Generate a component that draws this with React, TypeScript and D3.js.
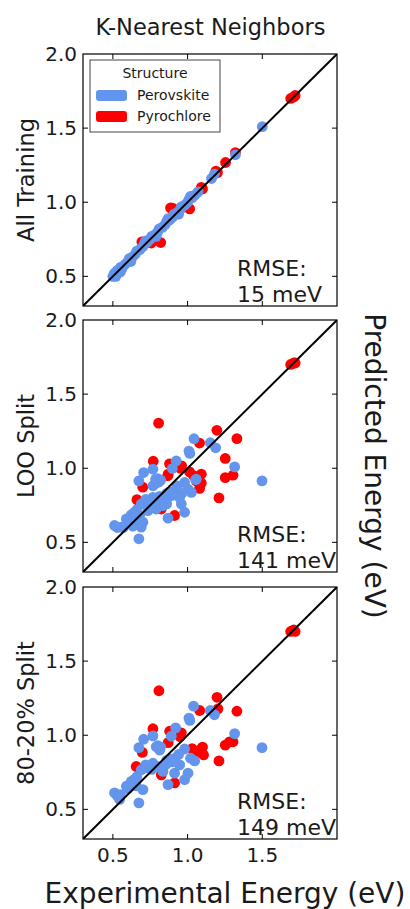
import React from "react";
import * as d3 from "d3";

// ---------- data ----------
const panelLabels = ["All Training", "LOO Split", "80-20% Split"];
const rmseLabels = ["15 meV", "141 meV", "149 meV"];
const tickValues = [0.5, 1.0, 1.5, 2.0];
const xTickValues = [0.5, 1.0, 1.5];
const seriesNames = ["Perovskite", "Pyrochlore"];
const seriesColors = ["#6495ED", "#FF0000"];

// All Training
const trainPeroX = [0.5, 0.51, 0.52, 0.53, 0.54, 0.55, 0.56, 0.52, 0.55, 0.58, 0.6, 0.61, 0.63, 0.65, 0.66, 0.68, 0.7, 0.71, 0.73, 0.75, 0.76, 0.78, 0.8, 0.81, 0.83, 0.85, 0.86, 0.88, 0.9, 0.91, 0.93, 0.95, 0.96, 0.98, 1.0, 1.01, 1.03, 1.05, 1.07, 0.62, 0.72, 0.79, 0.87, 0.94, 1.02, 1.16, 1.18, 1.32, 1.5];
const trainPeroY = [0.5, 0.52, 0.51, 0.54, 0.53, 0.56, 0.55, 0.5, 0.53, 0.58, 0.6, 0.62, 0.63, 0.65, 0.67, 0.68, 0.7, 0.72, 0.73, 0.75, 0.77, 0.78, 0.8, 0.82, 0.83, 0.85, 0.87, 0.88, 0.9, 0.92, 0.93, 0.95, 0.97, 0.98, 1.0, 1.02, 1.03, 1.05, 1.07, 0.6, 0.74, 0.77, 0.89, 0.92, 1.04, 1.16, 1.19, 1.32, 1.51];
const trainPyroX = [1.69, 1.71, 1.72, 1.32, 1.254, 1.19, 1.2, 1.092, 1.1, 0.886, 0.9, 1.014, 0.694, 0.757, 0.82];
const trainPyroY = [1.7, 1.71, 1.72, 1.335, 1.268, 1.21, 1.2, 1.1, 1.09, 0.962, 0.96, 0.955, 0.733, 0.725, 0.728];

// LOO Split
const looPeroX = [1.498, 1.315, 1.152, 1.188, 1.043, 1.009, 1.015, 0.924, 0.898, 0.768, 0.706, 0.674, 0.786, 0.808, 0.8, 0.768, 1.058, 0.98, 1.003, 1.025, 0.913, 0.891, 0.947, 0.857, 0.813, 0.768, 0.746, 0.712, 0.69, 0.958, 0.835, 0.79, 0.735, 0.98, 0.869, 0.623, 0.59, 0.656, 0.701, 0.679, 0.511, 0.556, 0.634, 0.69, 0.674, 1.054, 0.79, 0.62, 0.64, 0.66, 0.72, 0.74, 0.78, 0.82, 0.84, 0.86, 0.88, 0.9, 0.86, 0.6, 0.53, 0.57, 0.82, 0.93, 0.96];
const looPeroY = [0.915, 1.009, 1.172, 1.138, 1.199, 1.116, 1.1, 1.049, 0.998, 0.993, 0.971, 0.915, 0.926, 0.908, 0.93, 0.882, 0.926, 0.904, 0.859, 0.837, 0.848, 0.815, 0.803, 0.803, 0.81, 0.803, 0.781, 0.77, 0.759, 0.759, 0.748, 0.725, 0.714, 0.703, 0.663, 0.685, 0.658, 0.658, 0.636, 0.681, 0.614, 0.603, 0.609, 0.603, 0.524, 0.922, 0.9, 0.66, 0.7, 0.72, 0.79, 0.76, 0.76, 0.77, 0.79, 0.83, 0.84, 0.82, 0.76, 0.64, 0.6, 0.6, 0.92, 0.88, 0.83];
const looPyroX = [1.69, 1.71, 1.72, 0.806, 1.196, 1.33, 1.08, 0.77, 1.252, 0.879, 0.96, 1.013, 1.092, 1.252, 1.304, 0.868, 1.058, 1.092, 1.08, 0.7, 0.661, 0.679, 1.21, 0.824, 0.913, 1.04, 0.87, 0.95, 1.07];
const looPyroY = [1.7, 1.71, 1.71, 1.304, 1.256, 1.2, 1.17, 1.047, 1.066, 1.03, 1.016, 0.975, 0.96, 0.937, 0.953, 0.95, 0.915, 0.9, 0.864, 0.872, 0.788, 0.77, 0.8, 0.725, 0.681, 0.95, 0.96, 1.0, 0.93];

// 80-20% Split
const splitPeroX = [1.498, 1.315, 1.18, 1.152, 1.04, 1.009, 1.015, 0.891, 0.768, 0.706, 0.674, 0.79, 0.813, 0.8, 0.98, 1.047, 1.02, 0.913, 0.947, 0.857, 0.768, 0.746, 0.69, 1.003, 0.913, 0.835, 0.98, 0.869, 0.623, 0.59, 0.656, 0.701, 0.511, 0.545, 0.53, 0.674, 0.92, 0.72, 0.62, 0.64, 0.66, 0.72, 0.76, 0.8, 0.84, 0.86, 0.88, 0.9, 0.55, 0.6, 0.82, 0.94];
const splitPeroY = [0.916, 1.011, 1.138, 1.167, 1.196, 1.116, 1.1, 0.993, 0.996, 0.973, 0.916, 0.922, 0.9, 0.93, 0.907, 0.827, 0.845, 0.844, 0.8, 0.804, 0.811, 0.782, 0.767, 0.744, 0.744, 0.756, 0.7, 0.667, 0.689, 0.656, 0.658, 0.633, 0.611, 0.567, 0.59, 0.544, 1.05, 0.8, 0.66, 0.7, 0.72, 0.78, 0.77, 0.79, 0.79, 0.83, 0.84, 0.82, 0.6, 0.64, 0.92, 0.87];
const splitPyroX = [1.69, 1.71, 1.72, 0.808, 1.197, 1.33, 1.203, 1.081, 0.768, 0.88, 0.958, 1.252, 1.304, 1.28, 1.092, 1.1, 1.058, 1.107, 1.21, 0.697, 0.656, 0.824, 0.913, 1.03, 0.87, 0.95];
const splitPyroY = [1.7, 1.71, 1.7, 1.3, 1.256, 1.162, 1.178, 1.167, 1.044, 1.027, 1.016, 0.933, 0.956, 0.955, 0.907, 0.92, 0.878, 0.867, 0.827, 0.884, 0.789, 0.733, 0.678, 0.91, 0.95, 0.99];

const panelsData = [
  [
    [trainPeroX, trainPeroY],
    [trainPyroX, trainPyroY],
  ],
  [
    [looPeroX, looPeroY],
    [looPyroX, looPyroY],
  ],
  [
    [splitPeroX, splitPeroY],
    [splitPyroX, splitPyroY],
  ],
];

// ---------- layout ----------
const W = 410;
const H = 909;
const left = 83;
const right = 337;
const tops = [54, 320, 587];
const ph = 252;
const FONT = "DejaVu Sans, sans-serif";
const domain: [number, number] = [0.3, 2.0];

export default function App() {
  const x = d3.scaleLinear().domain(domain).range([left, right]);
  const tickLen = 5;
  const R = 5.4;
  return (
    <svg
      width={W}
      height={H}
      style={{ position: "absolute", left: 0, top: 0, background: "#fff" }}
      fontFamily={FONT}
    >
      <rect x={0} y={0} width={W} height={H} fill="#fff" />
      <text x={210.5} y={35} fontSize={22.5} textAnchor="middle" fill="#1a1a1a">
        K-Nearest Neighbors
      </text>
      {tops.map((top, pi) => {
        const y = d3.scaleLinear().domain(domain).range([top + ph, top]);
        const clipId = `clip${pi}`;
        const [blue, red] = panelsData[pi];
        const redPts = d3.zip(red[0], red[1]);
        const bluePts = d3.zip(blue[0], blue[1]);
        return (
          <g key={pi}>
            <defs>
              <clipPath id={clipId}>
                <rect x={left} y={top} width={right - left} height={ph} />
              </clipPath>
            </defs>
            <g clipPath={`url(#${clipId})`}>
              {redPts.map((p, i) => (
                <circle key={"r" + i} cx={x(p[0])} cy={y(p[1])} r={R} fill={seriesColors[1]} />
              ))}
              {bluePts.map((p, i) => (
                <circle key={"b" + i} cx={x(p[0])} cy={y(p[1])} r={R} fill={seriesColors[0]} />
              ))}
              <line
                x1={x(domain[0])}
                y1={y(domain[0])}
                x2={x(domain[1])}
                y2={y(domain[1])}
                stroke="#000"
                strokeWidth={2}
              />
            </g>
            {xTickValues.map((t) => (
              <g key={"xt" + t}>
                <line x1={x(t)} x2={x(t)} y1={top + ph} y2={top + ph - tickLen} stroke="#000" strokeWidth={1} />
                <line x1={x(t)} x2={x(t)} y1={top} y2={top + tickLen} stroke="#000" strokeWidth={1} />
              </g>
            ))}
            {tickValues.slice(0, 3).map((t) => (
              <g key={"yt" + t}>
                <line x1={left} x2={left + tickLen} y1={y(t)} y2={y(t)} stroke="#000" strokeWidth={1} />
                <line x1={right} x2={right - tickLen} y1={y(t)} y2={y(t)} stroke="#000" strokeWidth={1} />
              </g>
            ))}
            {tickValues.map((t) => (
              <text key={"yl" + t} x={77} y={y(t) + 7} fontSize={20} textAnchor="end" fill="#1a1a1a">
                {t.toFixed(1)}
              </text>
            ))}
            <rect x={left} y={top} width={right - left} height={ph} fill="none" stroke="#000" strokeWidth={1.2} />
            <text x={237} y={top + ph - 30} fontSize={22} fill="#1a1a1a">
              RMSE:
            </text>
            <text x={237} y={top + ph - 4} fontSize={22} fill="#1a1a1a">
              {rmseLabels[pi]}
            </text>
            <text
              transform={`translate(34,${top + ph / 2}) rotate(-90)`}
              fontSize={22.5}
              textAnchor="middle"
              fill="#1a1a1a"
            >
              {panelLabels[pi]}
            </text>
            {pi === 2 &&
              xTickValues.map((t) => (
                <text key={"xl" + t} x={x(t)} y={top + ph + 23} fontSize={20} textAnchor="middle" fill="#1a1a1a">
                  {t.toFixed(1)}
                </text>
              ))}
          </g>
        );
      })}
      <g>
        <rect x={90} y={60} width={130} height={72} fill="#fff" stroke="#444" strokeWidth={1} />
        <text x={155} y={78} fontSize={14} textAnchor="middle" fill="#1a1a1a">
          Structure
        </text>
        {seriesNames.map((name, i) => (
          <g key={name}>
            <rect x={96} y={90 + i * 21} width={31} height={11} rx={3} fill={seriesColors[i]} />
            <text x={137} y={100 + i * 21} fontSize={14} fill="#1a1a1a">
              {name}
            </text>
          </g>
        ))}
      </g>
      <text x={225} y={903} fontSize={28} textAnchor="middle" fill="#1a1a1a">
        Experimental Energy (eV)
      </text>
      <text transform={`translate(365,466) rotate(90)`} fontSize={28} textAnchor="middle" fill="#1a1a1a">
        Predicted Energy (eV)
      </text>
    </svg>
  );
}
